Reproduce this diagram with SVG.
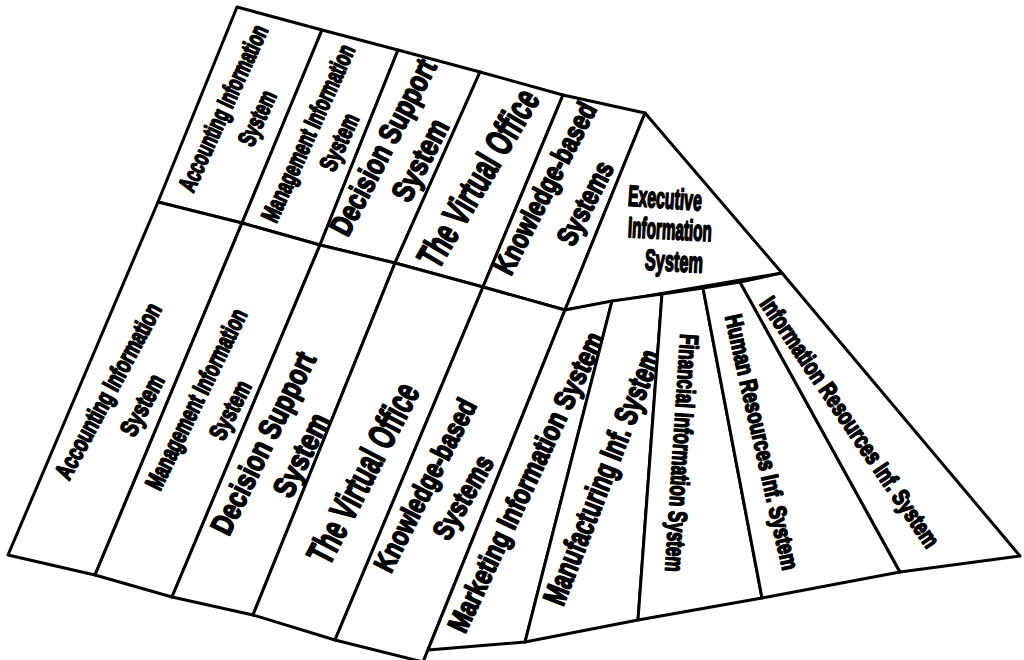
<svg xmlns="http://www.w3.org/2000/svg" width="1024" height="660" viewBox="0 0 1024 660">
<style>
.cell{fill:#fff;stroke:#000;stroke-width:3;stroke-linejoin:round}
.t{font-family:"Liberation Sans",Arial,sans-serif;font-weight:700;fill:#000;stroke:#000;stroke-width:1.7;stroke-linejoin:round;text-anchor:middle}
</style>
<rect width="1024" height="660" fill="#fff"/>
<g id="connectors"></g>
<!-- upper row -->
<g id="upper-accounting">
<polygon class="cell" points="237,7 322,30 242,223 158,202"/>
<text class="t" font-size="25" dy="0.35em" textLength="180" lengthAdjust="spacingAndGlyphs" transform="translate(223,108) rotate(-65.3)">Accounting Information</text>
<text class="t" font-size="25" dy="0.35em" textLength="58" lengthAdjust="spacingAndGlyphs" transform="translate(257,118) rotate(-65)">System</text>
</g>
<g id="upper-management">
<polygon class="cell" points="322,30 398,50 320,245 242,223"/>
<text class="t" font-size="25" dy="0.35em" textLength="192" lengthAdjust="spacingAndGlyphs" transform="translate(308,133) rotate(-65.6)">Management Information</text>
<text class="t" font-size="25" dy="0.35em" textLength="60" lengthAdjust="spacingAndGlyphs" transform="translate(339,142) rotate(-65)">System</text>
</g>
<g id="upper-dss">
<polygon class="cell" points="398,50 480,72 395,263 320,245"/>
<text class="t" font-size="31" dy="0.35em" textLength="194" lengthAdjust="spacingAndGlyphs" transform="translate(383,147) rotate(-62.5)">Decision Support</text>
<text class="t" font-size="31" dy="0.35em" textLength="88" lengthAdjust="spacingAndGlyphs" transform="translate(420,160) rotate(-62.5)">System</text>
</g>
<g id="upper-virtual-office">
<polygon class="cell" points="480,72 563,95 483,287 395,263"/>
<text class="t" font-size="38" dy="0.35em" textLength="200" lengthAdjust="spacingAndGlyphs" transform="translate(478,178) rotate(-59.2)">The Virtual Office</text>
</g>
<g id="upper-kbs">
<polygon class="cell" points="563,95 645,113 565,310 483,287"/>
<text class="t" font-size="29" dy="0.35em" textLength="189" lengthAdjust="spacingAndGlyphs" transform="translate(545,188) rotate(-62.7)">Knowledge-based</text>
<text class="t" font-size="29" dy="0.35em" textLength="90" lengthAdjust="spacingAndGlyphs" transform="translate(585,203) rotate(-62.7)">Systems</text>
</g>
<!-- lower row -->
<g id="lower-accounting">
<polygon class="cell" points="158,202 242,223 95,575 8,555"/>
<text class="t" font-size="25" dy="0.35em" textLength="196" lengthAdjust="spacingAndGlyphs" transform="translate(108,391) rotate(-61.6)">Accounting Information</text>
<text class="t" font-size="25" dy="0.35em" textLength="66" lengthAdjust="spacingAndGlyphs" transform="translate(142,405) rotate(-62)">System</text>
</g>
<g id="lower-management">
<polygon class="cell" points="242,223 320,245 172,597 95,575"/>
<text class="t" font-size="25" dy="0.35em" textLength="198" lengthAdjust="spacingAndGlyphs" transform="translate(196,399) rotate(-63.7)">Management Information</text>
<text class="t" font-size="25" dy="0.35em" textLength="63" lengthAdjust="spacingAndGlyphs" transform="translate(230,410) rotate(-63)">System</text>
</g>
<g id="lower-dss">
<polygon class="cell" points="320,245 395,263 253,615 172,597"/>
<text class="t" font-size="31" dy="0.35em" textLength="199" lengthAdjust="spacingAndGlyphs" transform="translate(263,443) rotate(-63.8)">Decision Support</text>
<text class="t" font-size="31" dy="0.35em" textLength="89" lengthAdjust="spacingAndGlyphs" transform="translate(301,455) rotate(-63.8)">System</text>
</g>
<g id="lower-virtual-office">
<polygon class="cell" points="395,263 483,287 335,640 253,615"/>
<text class="t" font-size="38" dy="0.35em" textLength="198" lengthAdjust="spacingAndGlyphs" transform="translate(363,473) rotate(-62.5)">The Virtual Office</text>
</g>
<g id="lower-kbs">
<polygon class="cell" points="483,287 565,310 423,662 335,640"/>
<text class="t" font-size="29" dy="0.35em" textLength="190" lengthAdjust="spacingAndGlyphs" transform="translate(425,485) rotate(-62.9)">Knowledge-based</text>
<text class="t" font-size="29" dy="0.35em" textLength="92" lengthAdjust="spacingAndGlyphs" transform="translate(463,497) rotate(-60)">Systems</text>
</g>
<!-- executive triangle -->
<g id="eis">
<polygon class="cell" points="645,113 782,273 565,310"/>
<text class="t" font-size="29" dy="0.35em" textLength="74" lengthAdjust="spacingAndGlyphs" transform="translate(665,198) rotate(4)">Executive</text>
<text class="t" font-size="29" dy="0.35em" textLength="84" lengthAdjust="spacingAndGlyphs" transform="translate(670,229) rotate(3)">Information</text>
<text class="t" font-size="29" dy="0.35em" textLength="58" lengthAdjust="spacingAndGlyphs" transform="translate(674,261) rotate(3)">System</text>
</g>
<!-- fan -->
<g id="fan-marketing">
<polygon class="cell" points="565,310 612,301 525,642 428,650"/>
<text class="t" font-size="29" dy="0.35em" textLength="328" lengthAdjust="spacingAndGlyphs" transform="translate(526,482) rotate(-64.7)">Marketing Information System</text>
</g>
<g id="fan-manufacturing">
<polygon class="cell" points="612,301 662,294 638,620 525,642"/>
<text class="t" font-size="32" dy="0.35em" textLength="271" lengthAdjust="spacingAndGlyphs" transform="translate(602,477) rotate(-68.6)">Manufacturing Inf. System</text>
</g>
<g id="fan-financial">
<polygon class="cell" points="662,294 703,288 762,598 638,620"/>
<text class="t" font-size="26" dy="0.35em" textLength="238" lengthAdjust="spacingAndGlyphs" transform="translate(682,453) rotate(93.7)">Financial Information System</text>
</g>
<g id="fan-human">
<polygon class="cell" points="703,288 740,282 900,572 762,598"/>
<text class="t" font-size="24" dy="0.35em" textLength="261" lengthAdjust="spacingAndGlyphs" transform="translate(762,442) rotate(77.2)">Human Resources Inf. System</text>
</g>
<g id="fan-info-resources">
<polygon class="cell" points="740,282 782,273 1020,556 900,572"/>
<text class="t" font-size="24" dy="0.35em" textLength="298" lengthAdjust="spacingAndGlyphs" transform="translate(850,422) rotate(55.7)">Information Resources Inf. System</text>
</g>
</svg>
